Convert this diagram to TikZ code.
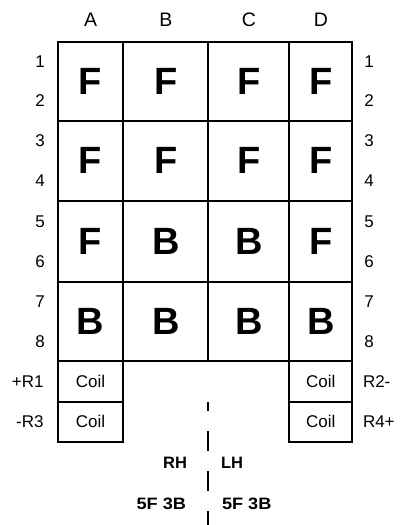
\documentclass[tikz,border=0pt]{standalone}
\usepackage{fontspec}
\setmainfont{Liberation Sans}
\begin{document}
\begin{tikzpicture}[x=1bp,y=-1bp,line width=2bp,
  lbl/.style={inner sep=0pt,font=\fontsize{17bp}{19bp}\selectfont},
  hdr/.style={inner sep=0pt,font=\fontsize{19.5bp}{22bp}\selectfont},
  big/.style={inner sep=0pt,font=\fontsize{38bp}{40bp}\selectfont\bfseries},
  bold/.style={inner sep=0pt,font=\fontsize{16.5bp}{18bp}\selectfont\bfseries},
  gridline/.style={line width=2bp},
  axis/.style={line width=2bp,dash pattern=on 20bp off 20bp,dash phase=11bp}]
\useasboundingbox (0,0) rectangle (402,525);
% grid
\draw[gridline] (57.7,41.7) rectangle (352.3,361);
\foreach \x in {123.3,208.3,289.3}{\draw[gridline] (\x,41.7) -- (\x,361);}
\foreach \y in {120.7,201,282.3}{\draw[gridline] (57.7,\y) -- (352.3,\y);}
% coil boxes
\draw[gridline] (57.7,361) rectangle (123.3,402);
\draw[gridline] (57.7,402) rectangle (123.3,441.7);
\draw[gridline] (289.3,361) rectangle (352.3,402);
\draw[gridline] (289.3,402) rectangle (352.3,441.7);
% headers
\node[hdr] (hA) at (90.7,20) {A};
\node[hdr] (hB) at (165.8,20) {B};
\node[hdr] (hC) at (248.8,20) {C};
\node[hdr] (hD) at (320.8,20) {D};
% row numbers
\foreach \n/\y in {1/61.5,2/100.5,3/141,4/181,5/221.5,6/261.5,7/302,8/341.5}{
  \node[lbl] (L\n) at (40,\y) {\n};
  \node[lbl] (R\n) at (369,\y) {\n};
}
% big letters
\foreach \r/\y/\a/\b/\c/\d in {1/81.2/F/F/F/F,2/160.9/F/F/F/F,3/241.7/F/B/B/F,4/321.7/B/B/B/B}{
  \node[big] (c\r a) at (90.5,\y) {\a};
  \node[big] (c\r b) at (165.8,\y) {\b};
  \node[big] (c\r c) at (248.8,\y) {\c};
  \node[big] (c\r d) at (320.8,\y) {\d};
}
% coils
\node[lbl] (coil1) at (90.5,381.5) {Coil};
\node[lbl] (coil3) at (90.5,421.8) {Coil};
\node[lbl] (coil2) at (320.8,381.5) {Coil};
\node[lbl] (coil4) at (320.8,421.8) {Coil};
\node[lbl,anchor=east] (r1) at (44.5,381.5) {+R1};
\node[lbl,anchor=east] (r3) at (44.5,421.8) {-R3};
\node[lbl,anchor=west] (r2) at (362,381.5) {R2-};
\node[lbl,anchor=west] (r4) at (362,421.8) {R4+};
% bottom labels
\node[bold,anchor=east] (rh) at (188,462.5) {RH};
\node[bold,anchor=west] (lh) at (220,462.5) {LH};
\node[bold,anchor=east] (rhn) at (187,503.8) {\scalebox{1.1}[1]{5F 3B}};
\node[bold,anchor=west] (lhn) at (221,503.8) {\scalebox{1.1}[1]{5F 3B}};
% centre line
\coordinate (ctop) at (208.3,402);
\coordinate (cbot) at (208.3,525);
\draw[axis] (ctop) -- (cbot);
\end{tikzpicture}
\end{document}
